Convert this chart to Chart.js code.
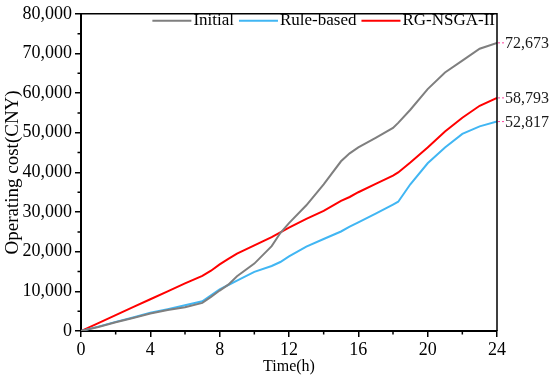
<!DOCTYPE html>
<html>
<head>
<meta charset="utf-8">
<script src="https://cdn.jsdelivr.net/npm/chart.js@4"></script>
<style>
  html, body { margin: 0; padding: 0; background: #fff; }
  #wrap { width: 550px; height: 379px; }
</style>
</head>
<body>
<div id="wrap"><canvas id="myChart" width="550" height="379"></canvas></div>
<script>
const hours = [0, 1, 2, 3, 4, 5, 6, 7, 7.5, 8, 8.5, 9, 10, 11, 11.5, 12, 13, 14, 15, 15.5, 16, 17, 18, 18.3, 19, 20, 21, 22, 23, 24];
const initialCost = [0, 1000, 2200, 3300, 4400, 5300, 6000, 7100, 8600, 10200, 11700, 13800, 17000, 21400, 24700, 27200, 31700, 37000, 42800, 44800, 46300, 48700, 51200, 52500, 55800, 61000, 65200, 68200, 71200, 72673];
const ruleCost = [0, 1100, 2300, 3400, 4600, 5500, 6500, 7500, 9000, 10500, 11600, 12700, 14900, 16400, 17400, 18800, 21300, 23200, 25100, 26300, 27400, 29600, 31900, 32600, 37000, 42300, 46300, 49700, 51600, 52817];
const nsgaCost = [0, 2000, 4000, 6000, 8000, 10000, 12000, 13900, 15200, 16800, 18200, 19500, 21600, 23700, 24900, 26100, 28300, 30300, 32800, 33800, 35000, 37100, 39200, 40000, 42500, 46300, 50300, 53800, 56800, 58793];
const seriesNames = ['Initial', 'Rule-based', 'RG-NSGA-II'];
const endValues = [72673, 58793, 52817];
const xTicks = [0, 4, 8, 12, 16, 20, 24];

const serif = '"Liberation Serif", "Times New Roman", serif';
const colors = ['#7f7f7f', '#41b6f3', '#ff0000'];

function toPoints(vals) {
  return vals.map((v, i) => ({ x: hours[i], y: v }));
}

// minor ticks, frame, legend inside plot, end labels
const extras = {
  id: 'extras',
  afterDraw(chart) {
    const c = chart.ctx;
    const a = chart.chartArea;
    const xs = chart.scales.x, ys = chart.scales.y;
    c.save();
    c.strokeStyle = '#000';
    c.lineWidth = 1.5;
    c.beginPath();
    c.moveTo(a.left, a.top); c.lineTo(a.right, a.top); c.lineTo(a.right, a.bottom);
    c.stroke();

    c.lineWidth = 1.5;
    c.beginPath();
    for (let t = 2; t < 24; t += 4) {
      const px = xs.getPixelForValue(t);
      c.moveTo(px, a.bottom); c.lineTo(px, a.bottom + 3.5);
    }
    for (let v = 5000; v < 80000; v += 10000) {
      const py = ys.getPixelForValue(v);
      c.moveTo(a.left, py); c.lineTo(a.left - 3.5, py);
    }
    c.stroke();

    // legend
    c.font = '17px ' + serif;
    c.textBaseline = 'middle';
    const ly = a.top + 7;
    let x = a.right - 2;
    for (let i = seriesNames.length - 1; i >= 0; i--) {
      const w = c.measureText(seriesNames[i]).width;
      x -= w;
      c.fillStyle = '#000';
      c.fillText(seriesNames[i], x, ly);
      x -= 2;
      c.strokeStyle = colors[i];
      c.lineWidth = 2;
      c.beginPath();
      c.moveTo(x - 39, ly); c.lineTo(x, ly);
      c.stroke();
      x -= 39 + 5;
    }

    // end labels
    c.font = '16px ' + serif;
    endValues.forEach(v => {
      const py = ys.getPixelForValue(v);
      c.strokeStyle = '#ff3f9f';
      c.lineWidth = 1;
      c.setLineDash([2, 2]);
      c.beginPath();
      c.moveTo(a.right + 1, py); c.lineTo(a.right + 8, py);
      c.stroke();
      c.setLineDash([]);
      c.fillStyle = '#1a1a1a';
      c.fillText(v.toLocaleString('en-US'), a.right + 8, py + 1);
    });
    c.restore();
  }
};

const ctx = document.getElementById('myChart').getContext('2d');
const chart = new Chart(ctx, {
  type: 'line',
  data: {
    datasets: [
      { label: seriesNames[0], data: toPoints(initialCost), borderColor: colors[0], backgroundColor: colors[0] },
      { label: seriesNames[1], data: toPoints(ruleCost), borderColor: colors[1], backgroundColor: colors[1] },
      { label: seriesNames[2], data: toPoints(nsgaCost), borderColor: colors[2], backgroundColor: colors[2] }
    ]
  },
  options: {
    responsive: false,
    animation: false,
    events: [],
    layout: { padding: { top: 12, right: 53, left: 0, bottom: 0 } },
    elements: {
      line: { borderWidth: 2, tension: 0 },
      point: { radius: 0 }
    },
    plugins: { legend: { display: false }, tooltip: { enabled: false } },
    scales: {
      x: {
        type: 'linear',
        min: 0, max: 24,
        afterFit(s) { s.height = 48; },
        afterBuildTicks(s) { s.ticks = xTicks.map(v => ({ value: v })); },
        ticks: { color: '#000', font: { family: serif, size: 18 }, padding: 2, maxRotation: 0 },
        grid: { drawOnChartArea: false, drawTicks: true, tickLength: 6, color: '#000', lineWidth: 1.5 },
        border: { display: true, color: '#000', width: 2 },
        title: { display: true, text: 'Time(h)', color: '#000', font: { family: serif, size: 16 }, padding: { top: 0, bottom: 3 } }
      },
      y: {
        min: 0, max: 80000,
        afterFit(s) { s.width = 81; },
        ticks: {
          stepSize: 10000, color: '#000', padding: 3,
          font: { family: serif, size: 18 },
          callback: v => v.toLocaleString('en-US')
        },
        grid: { drawOnChartArea: false, drawTicks: true, tickLength: 6, color: '#000', lineWidth: 1.5 },
        border: { display: true, color: '#000', width: 2 },
        title: { display: true, text: 'Operating cost(CNY)', color: '#000', font: { family: serif, size: 19 }, padding: { top: 2, bottom: 0 } }
      }
    }
  },
  plugins: [extras]
});
</script>
</body>
</html>
